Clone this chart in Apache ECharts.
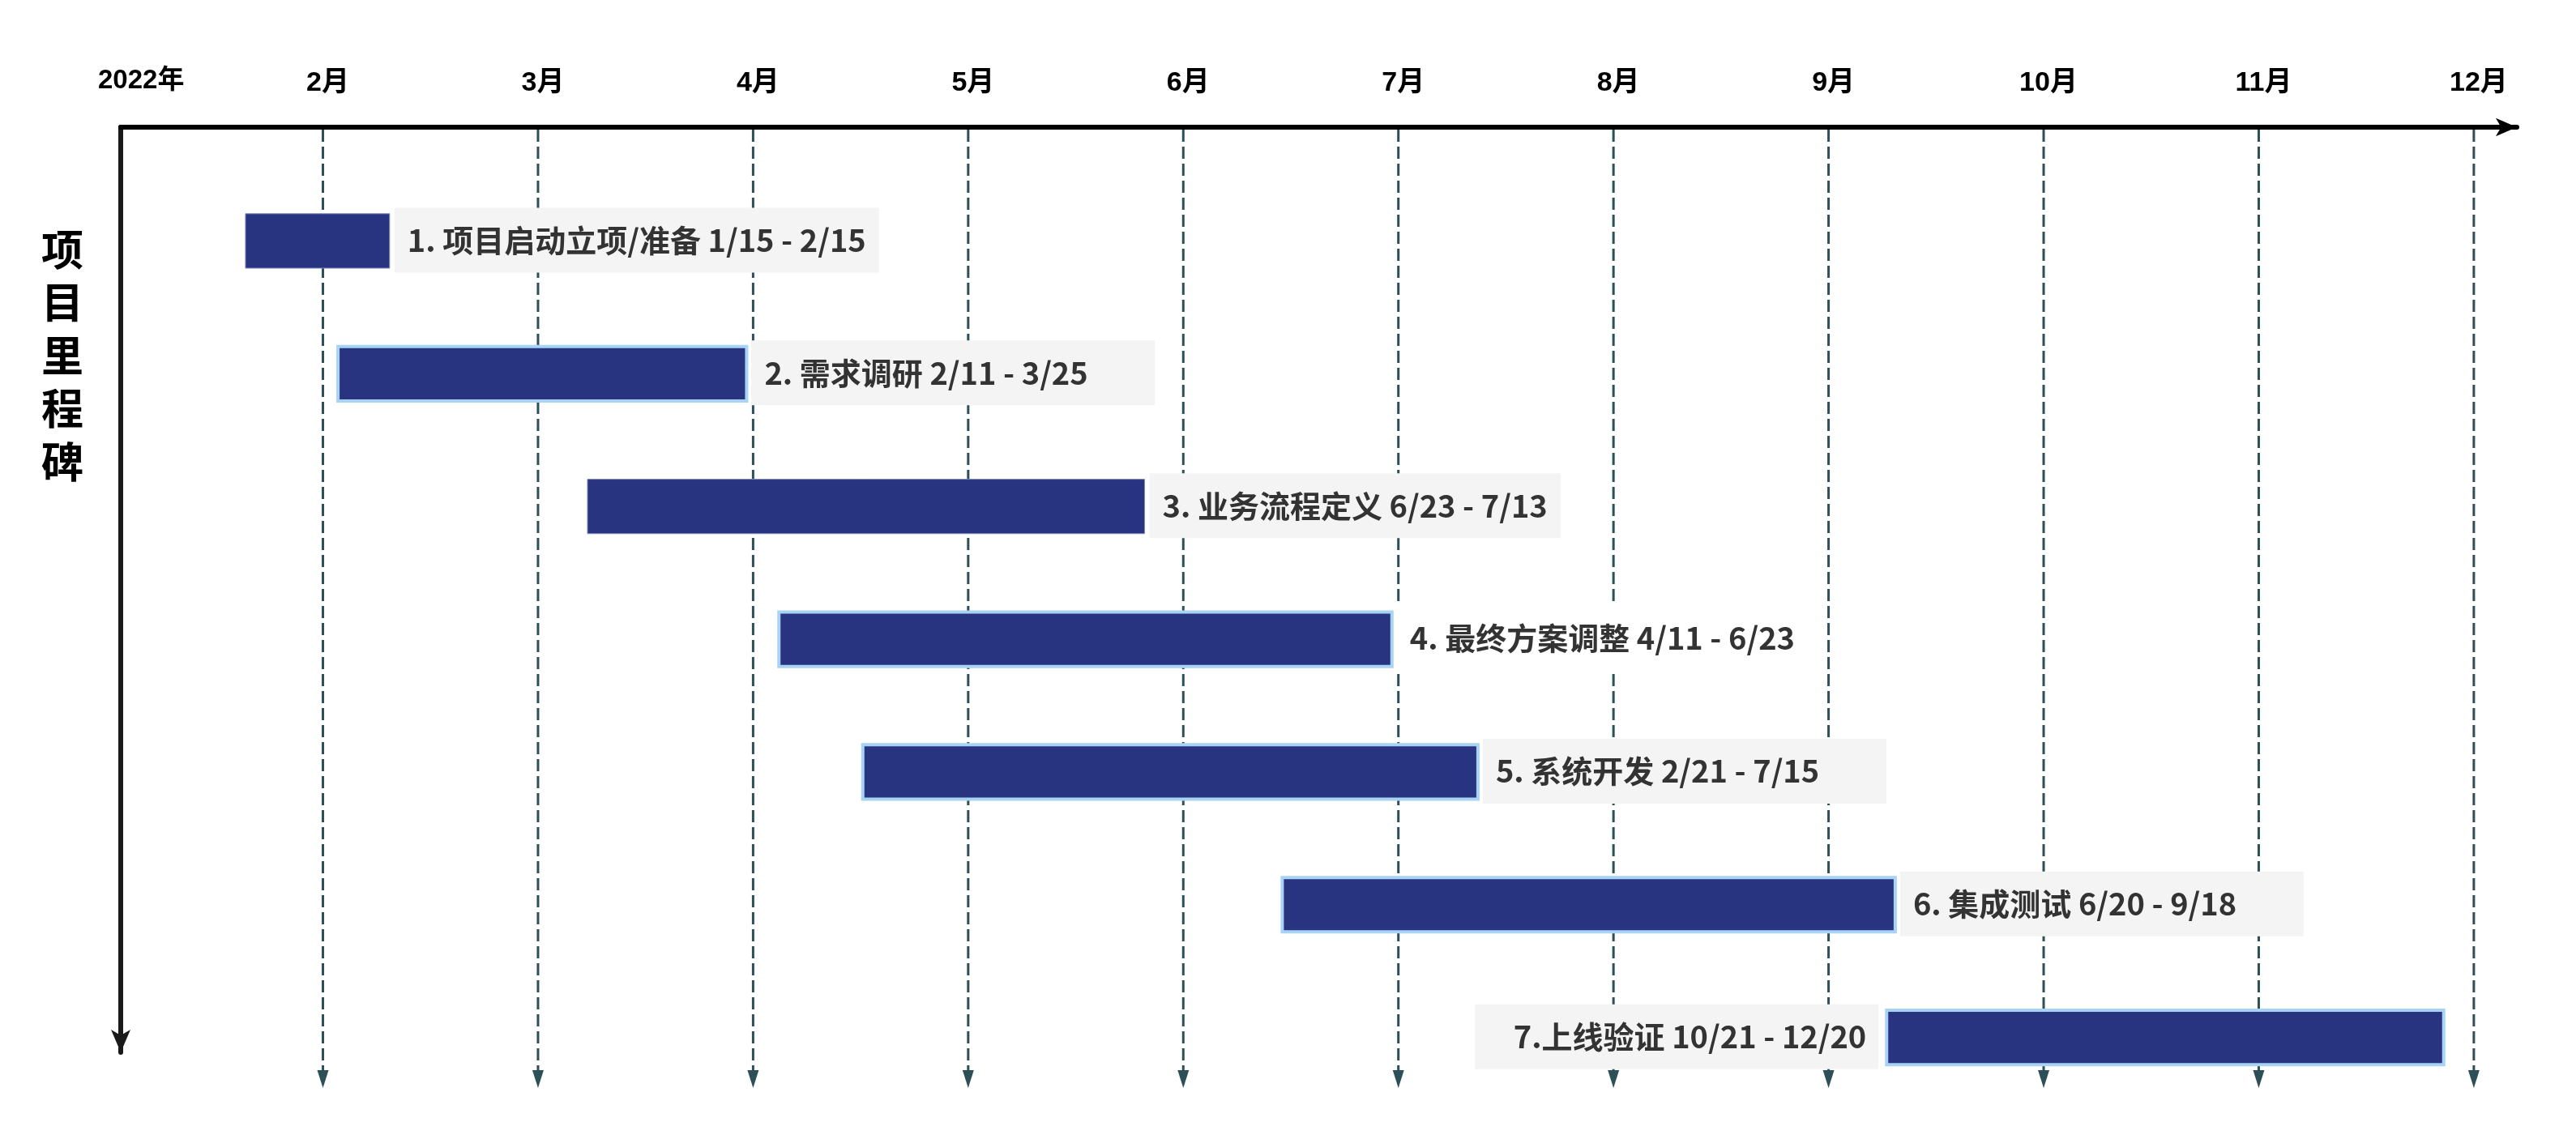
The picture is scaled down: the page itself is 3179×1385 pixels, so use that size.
<!DOCTYPE html>
<html>
<head>
<meta charset="utf-8">
<script src="https://cdn.jsdelivr.net/npm/echarts@6/dist/echarts.min.js"></script>
<style>
html,body{margin:0;padding:0;background:#fff;}
#c{width:3179px;height:1385px;}
</style>
</head>
<body>
<div id="c"></div>
<script>
// ---------------- data ----------------
const yearLabel = '2022年';
const axisTitle = '项目里程碑';
const monthLabels = ['2月', '3月', '4月', '5月', '6月', '7月', '8月', '9月', '10月', '11月', '12月'];
const monthValues = [2, 3, 4, 5, 6, 7, 8, 9, 10, 11, 12];
const taskLabels = [
  '1. 项目启动立项/准备 1/15 - 2/15',
  '2. 需求调研 2/11 - 3/25',
  '3. 业务流程定义 6/23 - 7/13',
  '4. 最终方案调整 4/11 - 6/23',
  '5. 系统开发 2/21 - 7/15',
  '6. 集成测试 6/20 - 9/18',
  '7.上线验证 10/21 - 12/20'
];
const taskRows = [1, 2, 3, 4, 5, 6, 7];
const taskStart = [1.64, 2.07, 3.23, 4.12, 4.51, 6.46, 9.27];
const taskEnd = [2.31, 3.97, 5.82, 6.97, 7.37, 9.31, 11.86];

// ---------------- styling ----------------
const Y_MIN = 0.143, Y_MAX = 7.112;
const LABEL_FONT = 'bold 38px "Noto Sans CJK SC", sans-serif';
const MONTH_FONT = 'bold 34px "Liberation Sans", "Noto Sans CJK SC", sans-serif';
const OUTLINED = [1, 3, 4, 5, 6];
const PLAIN_BOX = [3];
const measureCtx = document.createElement('canvas').getContext('2d');
measureCtx.font = LABEL_FONT;
function textWidth(s) { return measureCtx.measureText(s).width; }

const chart = echarts.init(document.getElementById('c'), null, { renderer: 'canvas' });

const monthSeries = {
  type: 'custom',
  z: 1,
  clip: false,
  silent: true,
  data: monthValues.map(v => [v, Y_MIN]),
  encode: { x: 0, y: 1 },
  renderItem: function (params, api) {
    const x = api.coord([api.value(0), Y_MIN])[0];
    const cs = params.coordSys;
    const top = cs.y, bottom = cs.y + cs.height;
    const tipY = bottom + 44, headY = tipY - 22;
    return {
      type: 'group',
      children: [
        { type: 'line', shape: { x1: x, y1: top + 3, x2: x, y2: headY + 2 },
          style: { stroke: '#2D5058', lineWidth: 3, lineDash: [15, 6] } },
        { type: 'polygon', shape: { points: [[x - 7, headY], [x + 7, headY], [x, tipY]] },
          style: { fill: '#2D5058' } },
        { type: 'text', style: { text: monthLabels[params.dataIndex], x: x + 6, y: top - 54,
          align: 'center', verticalAlign: 'middle', font: MONTH_FONT, fill: '#000' } }
      ]
    };
  }
};

const taskSeries = {
  type: 'custom',
  z: 2,
  clip: false,
  silent: true,
  data: taskRows.map((r, i) => [taskStart[i], taskEnd[i], r]),
  encode: { x: [0, 1], y: 2 },
  renderItem: function (params, api) {
    const i = params.dataIndex;
    const cs = params.coordSys;
    const s = api.coord([api.value(0), api.value(2)]);
    const e = api.coord([api.value(1), api.value(2)]);
    const h = api.size([0, 0.41])[1];
    const cy = s[1];
    const outlined = OUTLINED.indexOf(i) >= 0;
    const plain = PLAIN_BOX.indexOf(i) >= 0;
    const label = taskLabels[i];
    const tw = textWidth(label);
    const boxW = plain ? tw + 32 : Math.max(tw + 32, 498);
    const boxH = 80;
    let bx, tx, align;
    if (e[0] + 6 + boxW <= cs.x + cs.width) {
      bx = e[0] + 6; tx = bx + 16; align = 'left';
    } else {
      bx = s[0] - 10 - boxW; tx = bx + boxW - 15; align = 'right';
    }
    return {
      type: 'group',
      children: [
        { type: 'rect', shape: { x: bx, y: cy - 1 - boxH / 2, width: boxW, height: boxH },
          style: { fill: plain ? '#FFFFFF' : '#F4F4F4' } },
        { type: 'rect', shape: { x: s[0], y: cy - h / 2, width: e[0] - s[0], height: h },
          style: outlined ? { fill: '#283480', stroke: '#A8D3F5', lineWidth: 4 }
                          : { fill: '#283480', stroke: '#8089BA', lineWidth: 1 } },
        { type: 'text', style: { text: label, x: tx, y: cy - 1, align: align, verticalAlign: 'middle',
          font: LABEL_FONT, fill: '#333333' } }
      ]
    };
  }
};

const option = {
  animation: false,
  backgroundColor: '#ffffff',
  title: [
    { text: yearLabel, left: 121, top: 83, padding: 0,
      textStyle: { fontSize: 33, lineHeight: 33, fontWeight: 'bold', color: '#000',
        fontFamily: '"Liberation Sans", "Noto Sans CJK SC", sans-serif' } },
    { text: axisTitle.split('').join('\n'), left: 51, top: 275, padding: 0,
      textStyle: { fontSize: 52, lineHeight: 65.5, fontWeight: 'bold', color: '#000',
        fontFamily: '"Noto Sans CJK SC", sans-serif' } }
  ],
  grid: { left: 149, right: 73, top: 157, bottom: 86, containLabel: false, outerBoundsMode: 'none' },
  xAxis: {
    type: 'value', position: 'top', min: 1.06, max: 12.2,
    axisLine: { show: true, onZero: false, symbol: ['none', 'arrow'], symbolSize: [17, 26],
      lineStyle: { color: '#000', width: 6 } },
    axisTick: { show: false }, axisLabel: { show: false }, splitLine: { show: false }
  },
  yAxis: {
    type: 'value', inverse: true, min: Y_MIN, max: Y_MAX,
    axisLine: { show: true, onZero: false, symbol: ['arrow', 'none'], symbolSize: [18, 28],
      lineStyle: { color: '#1a1a1a', width: 6 } },
    axisTick: { show: false }, axisLabel: { show: false }, splitLine: { show: false }
  },
  series: [monthSeries, taskSeries]
};
chart.setOption(option);
</script>
</body>
</html>
